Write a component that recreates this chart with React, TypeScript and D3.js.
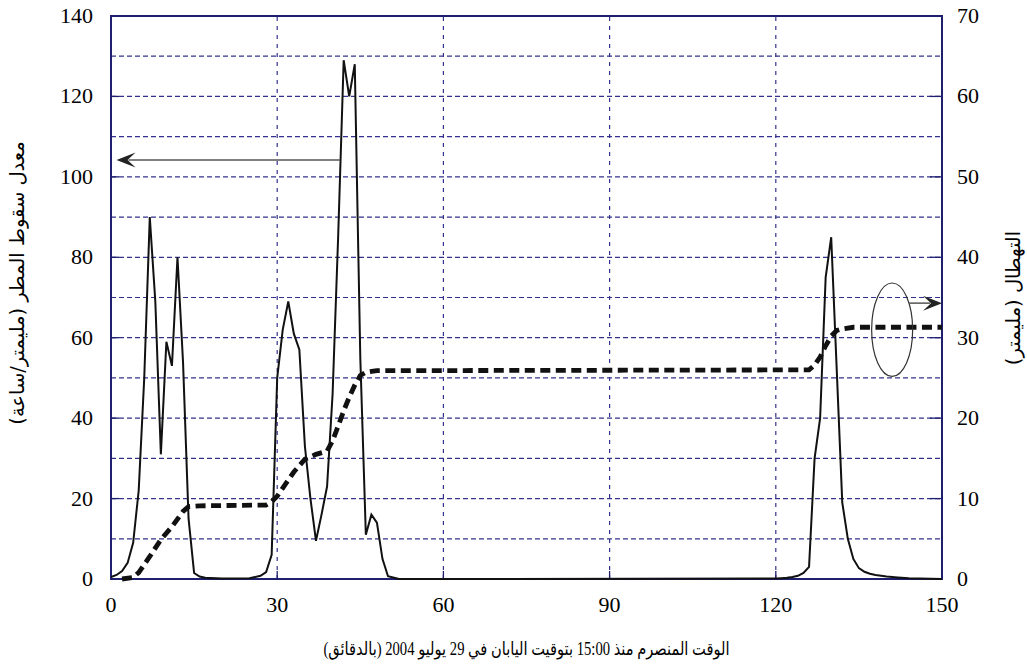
import * as d3 from 'd3'

// rain rate (mm/h), left axis
const rainTime = [
  0, 1, 2, 3, 4, 5, 6, 7, 8, 9, 10, 11, 12, 13, 14, 15, 16, 17, 20, 25, 27, 28, 29,
  30, 31, 32, 33, 34, 35, 36, 37, 38, 39, 40, 41, 42, 43, 44, 45, 46, 47, 48, 49, 50, 52,
  120, 121, 122, 123, 124, 125, 126, 127, 128, 129, 130, 131, 132, 133, 134, 135, 136,
  137, 138, 140, 142, 144, 146, 150,
]
const rainRate = [
  0.5, 1, 2, 4, 9, 22, 50, 90, 69, 31, 59, 53, 80, 54, 15, 1.5, 0.6, 0.3, 0.1, 0.2, 0.8, 1.7, 6,
  50, 62, 69, 61, 57, 33, 20, 9.5, 16, 23, 46, 85, 129, 120, 128, 55, 11, 16, 14, 5, 0.7, 0,
  0.1, 0.2, 0.3, 0.5, 0.8, 1.5, 3, 30, 40, 75, 85, 52, 19, 10, 5, 2.7, 1.8,
  1.3, 1, 0.6, 0.4, 0.2, 0.1, 0,
]

// cumulative rainfall (mm), right axis
const totalTime = [
  2, 4, 5, 7, 9, 11, 13, 14, 16, 28, 29, 30, 31, 33, 35, 37, 39, 40, 41, 42, 43, 44, 45, 46, 48,
  126, 127, 128, 129, 130, 131, 132, 134, 150,
]
const totalRain = [
  0, 0.2, 0.8, 2.8, 4.9, 6.5, 8.4, 9.0, 9.1, 9.2, 9.6, 10.3, 11.3, 13.3, 14.9, 15.5, 15.9, 17.2,
  19.0, 20.9, 22.6, 24.1, 25.3, 25.7, 25.9, 26.0, 26.6, 27.6, 29.0, 30.2, 30.9, 31.1, 31.3, 31.3,
]

const xTicks = [0, 30, 60, 90, 120, 150]
const leftTicks = [0, 20, 40, 60, 80, 100, 120, 140]
const rightTicks = [0, 10, 20, 30, 40, 50, 60, 70]
const hGrid = [10, 20, 30, 40, 50, 60, 70, 80, 90, 100, 110, 120, 130]
const vGrid = [30, 60, 90, 120]

const xTitle = 'الوقت المنصرم منذ 15:00 بتوقيت اليابان في 29 يوليو 2004 (بالدقائق)'
const leftTitle = 'معدل سقوط المطر (مليمتر/ساعة)'
const rightTitle = 'التهطال (مليمتر)'

// annotations, in data units
const leftArrow = { from: 41.3, to: 1, level: 104.2 }
const rightArrow = { from: 144, to: 150, level: 34.3 }
const ring = { t: 141, level: 31, rt: 3.7, rl: 5.8 }

const W = 1027
const H = 669
const M = { left: 111, right: 85, top: 16, bottom: 90 }

const navy = '#1f1f70'
const gridCol = '#33338f'
const numFont = 'Liberation Serif'

export default function App() {
  const x = d3.scaleLinear().domain([0, 150]).range([M.left, W - M.right])
  const yL = d3.scaleLinear().domain([0, 140]).range([H - M.bottom, M.top])
  const yR = d3.scaleLinear().domain([0, 70]).range([H - M.bottom, M.top])

  const rateLine = d3
    .line<number>()
    .x((_, i) => x(rainTime[i]))
    .y((d) => yL(d))
  const totalLine = d3
    .line<number>()
    .x((_, i) => x(totalTime[i]))
    .y((d) => yR(d))

  const [x0, x1] = x.range()
  const [y0, y1] = yL.range()

  // stealth arrow head, pointing along dir (+1 right, -1 left)
  const head = (tx: number, ty: number, dir: number) => {
    const len = 19
    const half = 7.5
    const notch = 11
    return `M${tx},${ty} L${tx - dir * len},${ty - half} L${tx - dir * notch},${ty} L${tx - dir * len},${ty + half} Z`
  }

  const la = { x1: x(leftArrow.from), x2: x(leftArrow.to), y: yL(leftArrow.level) }
  const ra = { x1: x(rightArrow.from), x2: x(rightArrow.to), y: yR(rightArrow.level) }

  const rtl = { direction: 'rtl' as const, unicodeBidi: 'embed' as const }

  return (
    <svg width={W} height={H} style={{ position: 'absolute', left: 0, top: 0, background: '#fff' }}>
      {/* grid */}
      {hGrid.map((v) => (
        <line
          key={'h' + v}
          x1={x0}
          x2={x1}
          y1={yL(v)}
          y2={yL(v)}
          stroke={gridCol}
          strokeWidth={1.2}
          strokeDasharray="5,3"
        />
      ))}
      {vGrid.map((v) => (
        <line
          key={'v' + v}
          x1={x(v)}
          x2={x(v)}
          y1={y0}
          y2={y1}
          stroke={gridCol}
          strokeWidth={1.2}
          strokeDasharray="4,5"
        />
      ))}

      {/* inward ticks */}
      {leftTicks.map((v) => (
        <line key={'lt' + v} x1={x0} x2={x0 + 8} y1={yL(v)} y2={yL(v)} stroke={navy} strokeWidth={1.3} />
      ))}
      {rightTicks.map((v) => (
        <line key={'rt' + v} x1={x1 - 12} x2={x1} y1={yR(v)} y2={yR(v)} stroke={navy} strokeWidth={1.3} />
      ))}
      {xTicks.map((v) => (
        <line key={'xt' + v} x1={x(v)} x2={x(v)} y1={y0} y2={y0 - 8} stroke={navy} strokeWidth={1.3} />
      ))}

      {/* frame */}
      <rect x={x0} y={y1} width={x1 - x0} height={y0 - y1} fill="none" stroke={navy} strokeWidth={2} />

      {/* series */}
      <path
        d={totalLine(totalRain) || ''}
        fill="none"
        stroke="#111"
        strokeWidth={4.8}
        strokeDasharray="10,5.5"
      />
      <path d={rateLine(rainRate) || ''} fill="none" stroke="#111" strokeWidth={2} />

      {/* annotations */}
      <line x1={la.x1} x2={la.x2 + 12} y1={la.y} y2={la.y} stroke="#555" strokeWidth={1.5} />
      <path d={head(la.x2, la.y, -1)} fill="#222" />
      <ellipse
        cx={x(ring.t)}
        cy={yR(ring.level)}
        rx={x(ring.t + ring.rt) - x(ring.t)}
        ry={yR(ring.level) - yR(ring.level + ring.rl)}
        fill="none"
        stroke="#333"
        strokeWidth={1.2}
      />
      <line x1={ra.x1} x2={ra.x2 - 12} y1={ra.y} y2={ra.y} stroke="#555" strokeWidth={1.5} />
      <path d={head(ra.x2, ra.y, 1)} fill="#222" />

      {/* tick labels */}
      {leftTicks.map((v) => (
        <text key={'ll' + v} x={x0 - 18} y={yL(v) + 7} textAnchor="end" fontSize={22} fontFamily={numFont}>
          {v}
        </text>
      ))}
      {rightTicks.map((v) => (
        <text key={'rl' + v} x={x1 + 15} y={yR(v) + 7} textAnchor="start" fontSize={22} fontFamily={numFont}>
          {v}
        </text>
      ))}
      {xTicks.map((v) => (
        <text key={'xl' + v} x={x(v)} y={y0 + 33} textAnchor="middle" fontSize={22} fontFamily={numFont}>
          {v}
        </text>
      ))}

      {/* axis titles */}
      <text
        x={(x0 + x1) / 2}
        y={655}
        textAnchor="middle"
        fontSize={18}
        textLength={406}
        lengthAdjust="spacingAndGlyphs"
        fontFamily="Liberation Serif, DejaVu Sans"
        direction="rtl"
        style={rtl}
      >
        {xTitle}
      </text>
      <text
        transform="translate(24, 283) rotate(-90)"
        textAnchor="middle"
        fontSize={19.5}
        fontFamily="DejaVu Sans"
        direction="rtl"
        style={rtl}
      >
        {leftTitle}
      </text>
      <text
        transform="translate(1020, 298) rotate(-90)"
        textAnchor="middle"
        fontSize={19.5}
        fontFamily="DejaVu Sans"
        direction="rtl"
        style={rtl}
      >
        {rightTitle}
      </text>
    </svg>
  )
}
